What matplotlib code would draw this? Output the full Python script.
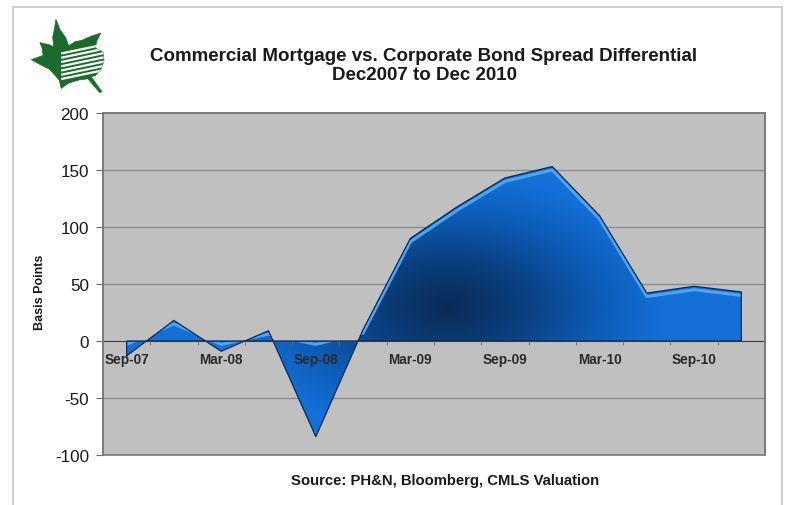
import numpy as np
import matplotlib
matplotlib.use('Agg')
import matplotlib.pyplot as plt
from matplotlib.colors import LinearSegmentedColormap
from matplotlib.patches import Polygon, Rectangle

plt.rcParams['font.family'] = ['Liberation Sans', 'DejaVu Sans']

# quarterly spread differential (basis points)
quarters = ['Sep-07', 'Dec-07', 'Mar-08', 'Jun-08', 'Sep-08', 'Dec-08', 'Mar-09',
            'Jun-09', 'Sep-09', 'Dec-09', 'Mar-10', 'Jun-10', 'Sep-10', 'Dec-10']
spread = [-13, 18, -9, 9, -84, 10, 90, 118, 143, 153, 110, 42, 48, 43]
y_ticks = [-100, -50, 0, 50, 100, 150, 200]

title = 'Commercial Mortgage vs. Corporate Bond Spread Differential\nDec2007 to Dec 2010'
source = 'Source: PH&N, Bloomberg, CMLS Valuation'

W, H = 790, 506
fig = plt.figure(figsize=(W / 100, H / 100), dpi=100)
fig.patch.set_facecolor('white')

# outer chart border
fig.patches.append(Rectangle((13 / W, -0.01), 769 / W, 1.01 - 8 / H, transform=fig.transFigure,
                             fill=False, edgecolor='#c8c8c8', lw=1.2))

ax = fig.add_axes([103 / W, 1 - 456 / H, 662 / W, 342 / H])
ax.set_facecolor('#c0c0c0')
x = np.arange(len(quarters))
y = np.array(spread, dtype=float)

ax.set_xlim(-0.5, len(quarters) - 0.5)
ax.set_ylim(-100, 200)

for v in y_ticks[1:-1]:
    if v != 0:
        ax.axhline(v, color='#8c8c8c', lw=1.0, zorder=0.3)

# area polygon used to clip the gradient
verts = [(x[0], 0)] + list(zip(x, y)) + [(x[-1], 0)]
area = Polygon(verts, closed=True, facecolor='none', edgecolor='#0a2a52', lw=0.9, zorder=2.3)
ax.add_patch(area)

gx, gy = np.meshgrid(np.linspace(-0.5, len(quarters) - 0.5, 400), np.linspace(-100, 200, 300))
t = np.sqrt(((gx - 6.8) / 4.6) ** 2 + ((gy - 30) / 115) ** 2)
t = np.clip(t, 0, 1)
cmap = LinearSegmentedColormap.from_list('blu', [(0, '#0a2b57'), (0.35, '#0b3f7e'),
                                                  (0.7, '#0d5cb8'), (1, '#1470d6')])
im = ax.imshow(t, extent=[-0.5, len(quarters) - 0.5, -100, 200], origin='lower',
               cmap=cmap, vmin=0, vmax=1, aspect='auto', zorder=2, interpolation='bilinear')
im.set_clip_path(area)

# bevel highlight
hl, = ax.plot(x, np.maximum(y, 0) - 3, color='#4fa3f0', lw=2.2, zorder=2.2)
hl.set_clip_path(area)

# category axis on the zero line
ax.spines['bottom'].set_position(('data', 0))
ax.spines['bottom'].set_color('#3a3a3a')
ax.spines['bottom'].set_zorder(5)
ax.xaxis.set_zorder(5)
ax.set_xticks(x[::2])
ax.set_xticklabels(quarters[::2], fontsize=9.8, fontweight='bold', color='#2a2a2a')
ax.set_xticks(x[:-1] + 0.5, minor=True)
ax.tick_params(axis='x', which='major', length=0, pad=8)
ax.tick_params(axis='x', which='minor', length=3, color='#6a6a6a')

ax.set_yticks(y_ticks)
ax.set_yticklabels([str(v) for v in y_ticks], fontsize=12.3, color='#1a1a1a')
ax.tick_params(axis='y', length=5, color='#6a6a6a', pad=5)
for s in ['left', 'top', 'right']:
    ax.spines[s].set_color('#7a7a7a')
    ax.spines[s].set_linewidth(1.2)

# bottom edge of the plot frame
ax.add_patch(Rectangle((0, 0), 1, 1, transform=ax.transAxes, fill=False,
                       edgecolor='#7a7a7a', lw=1.2, zorder=6, clip_on=False))

fig.text(40 / W, 1 - 292 / H, 'Basis Points', rotation=90, ha='center', va='center',
         fontsize=9, fontweight='bold', color='#1a1a1a')
fig.text(424 / W, 1 - 66 / H, title, ha='center', va='center', fontsize=13.5,
         fontweight='bold', color='#1a1a1a', linespacing=1.2)
fig.text(445 / W, 1 - 481 / H, source, ha='center', va='center', fontsize=10.7,
         fontweight='bold', color='#1a1a1a')

# logo: green maple leaf with building stripes
lax = fig.add_axes([26 / W, 1 - 100 / H, 94 / W, 84 / H])
lax.set_xlim(30, 118)
lax.set_ylim(98, 19)
lax.axis('off')
leaf = [(58, 23), (62, 33), (67, 40), (70, 48), (76, 44), (82, 43), (91, 39), (100, 36),
        (96, 44), (95, 50), (102, 54), (103, 62), (100, 70), (95, 76), (91, 77),
        (101, 91), (99, 92), (88, 79), (80, 80), (70, 83), (63, 88), (61, 80),
        (52, 70), (44, 66), (35, 61), (46, 57), (45, 50), (43, 45), (52, 47), (56, 49),
        (55, 40), (57, 30)]
leaf_patch = Polygon(leaf, closed=True, facecolor='#1b6b2c', edgecolor='#1b6b2c', lw=0.5)
lax.add_patch(leaf_patch)
for k in range(7):
    yy = 52 + k * 4
    ln, = lax.plot([64, 102], [yy + 3, yy - 5], color='white', lw=1.6)
    ln.set_clip_path(leaf_patch)

fig.savefig('out.png', dpi=100)
